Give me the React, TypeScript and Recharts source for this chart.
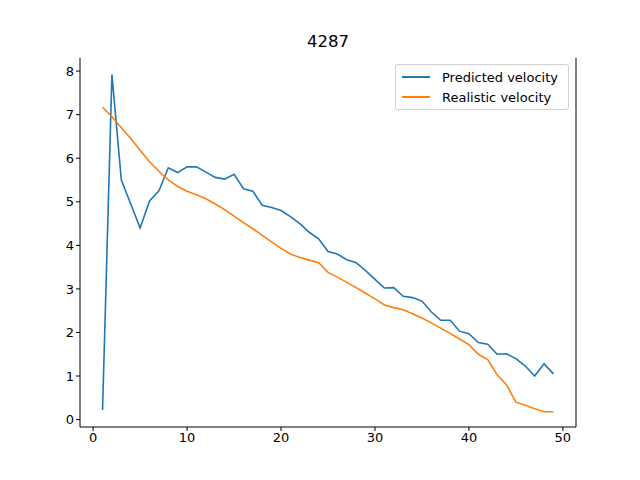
import { LineChart, Line, XAxis, YAxis } from 'recharts';

const steps = Array.from({ length: 49 }, (_, i) => i + 1);

const predicted = [
  0.22, 7.92, 5.5, 4.95, 4.4, 5.02, 5.25, 5.78, 5.67, 5.8,
  5.8, 5.68, 5.56, 5.52, 5.63, 5.3, 5.24, 4.92, 4.87, 4.8,
  4.66, 4.5, 4.3, 4.15, 3.86, 3.8, 3.67, 3.6, 3.42, 3.22,
  3.02, 3.03, 2.83, 2.8, 2.72, 2.47, 2.28, 2.28, 2.03, 1.97,
  1.77, 1.73, 1.5, 1.51, 1.4, 1.23, 1.0, 1.28, 1.05,
];

const realistic = [
  7.17, 6.95, 6.7, 6.45, 6.18, 5.92, 5.7, 5.5, 5.35, 5.24,
  5.16, 5.07, 4.95, 4.82, 4.67, 4.52, 4.38, 4.23, 4.08, 3.93,
  3.8, 3.72, 3.66, 3.6, 3.38, 3.27, 3.15, 3.03, 2.9, 2.77,
  2.63, 2.57, 2.52, 2.43, 2.33, 2.22, 2.1, 1.98, 1.85, 1.72,
  1.5, 1.38, 1.03, 0.8, 0.4, 0.33, 0.25, 0.18, 0.18,
];

const xTicks = [0, 10, 20, 30, 40, 50];
const yTicks = [0, 1, 2, 3, 4, 5, 6, 7, 8];

const data = steps.map((s, i) => ({ step: s, predicted: predicted[i], realistic: realistic[i] }));

const FONT = 'DejaVu Sans, sans-serif';
const tick = { fill: '#000', fontSize: 13, fontFamily: FONT };

const App = () => (
  <div style={{ position: 'absolute', left: 0, top: 0, width: 640, height: 480, background: '#fff' }}>
    <div style={{ position: 'absolute', top: 32, left: 80, width: 496, textAlign: 'center', fontFamily: FONT, fontSize: 16.5 }}>
      4287
    </div>
    <LineChart width={640} height={480} data={data} margin={{ top: 58, right: 0, bottom: 23, left: 0 }}>
      <XAxis
        xAxisId="b"
        dataKey="step"
        type="number"
        domain={[-1.4, 51.4]}
        ticks={xTicks}
        tick={tick}
        tickSize={4}
        stroke="#000"
        allowDataOverflow
      />
      <XAxis xAxisId="t" orientation="top" dataKey="step" type="number" domain={[-1.4, 51.4]} tick={false} tickLine={false} stroke="#000" height={0} />
      <YAxis
        yAxisId="l"
        type="number"
        domain={[-0.17, 8.3]}
        ticks={yTicks}
        tick={tick}
        tickSize={4}
        width={80}
        stroke="#000"
        allowDataOverflow
      />
      <YAxis yAxisId="r" orientation="right" type="number" domain={[-0.17, 8.3]} tick={false} tickLine={false} stroke="#000" width={64} />
      <Line xAxisId="b" yAxisId="l" type="linear" dataKey="predicted" stroke="#1f77b4" strokeWidth={1.6} dot={false} isAnimationActive={false} />
      <Line xAxisId="b" yAxisId="l" type="linear" dataKey="realistic" stroke="#ff7f0e" strokeWidth={1.6} dot={false} isAnimationActive={false} />
    </LineChart>
    <div
      style={{
        position: 'absolute', left: 395, top: 64, width: 174, height: 46, border: '1px solid #d0d0d0', borderRadius: 3,
        background: 'rgba(255,255,255,0.8)', fontFamily: FONT, fontSize: 13, boxSizing: 'border-box', padding: '2px 6px',
        whiteSpace: 'nowrap',
      }}
    >
      {[['Predicted velocity', '#1f77b4'], ['Realistic velocity', '#ff7f0e']].map(([name, color]) => (
        <div key={name} style={{ display: 'flex', alignItems: 'center', height: 20 }}>
          <span style={{ display: 'inline-block', width: 28, height: 2, background: color, marginRight: 12, flexShrink: 0 }} />
          {name}
        </div>
      ))}
    </div>
  </div>
);

export default App;
